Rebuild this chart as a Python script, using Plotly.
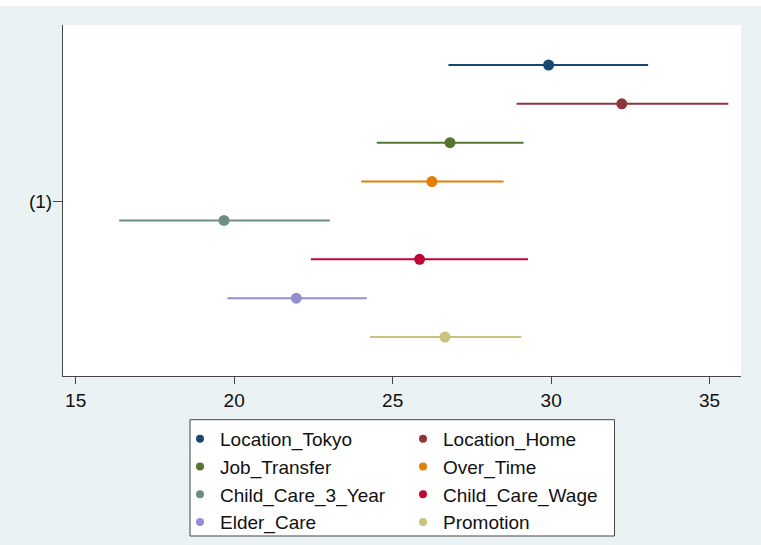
import plotly.graph_objects as go

names = ["Location_Tokyo", "Location_Home", "Job_Transfer", "Over_Time",
         "Child_Care_3_Year", "Child_Care_Wage", "Elder_Care", "Promotion"]
estimates = [29.92, 32.23, 26.81, 26.24, 19.68, 25.85, 21.96, 26.65]
ci_low = [26.76, 28.91, 24.50, 24.01, 16.37, 22.42, 19.79, 24.29]
ci_high = [33.06, 35.59, 29.13, 28.50, 23.02, 29.27, 24.18, 29.06]
model_labels = ["(1)"]
x_ticks = [15, 20, 25, 30, 35]

colors = ["#1a476f", "#90353b", "#55752f", "#e37e00",
          "#6e8e84", "#c10534", "#938dd2", "#cac27e"]

FONT = "Liberation Sans, Arial, sans-serif"
W, H = 761, 545
ML, MR, MT, MB = 63, 20, 25, 169
PW, PH = W - ML - MR, H - MT - MB


def px_x(p):
    return (p - ML) / PW


def px_y(p):
    return (H - MB - p) / PH


fig = go.Figure()
n = len(names)
for i, (nm, est, lo, hi, c) in enumerate(zip(names, estimates, ci_low, ci_high, colors)):
    off = (n - 1) / 2 - i
    fig.add_trace(go.Scatter(
        x=[est], y=[off], mode="markers", name=nm, showlegend=False,
        marker=dict(color=c, size=11, line=dict(width=0)),
        error_x=dict(type="data", symmetric=False, array=[hi - est], arrayminus=[est - lo],
                     color=c, thickness=2, width=0),
    ))
    # legend entries (two columns)
    fig.add_trace(go.Scatter(
        x=[None], y=[None], mode="markers", name=nm, showlegend=True,
        marker=dict(color=c, size=8),
        legend="legend" if i % 2 == 0 else "legend2",
    ))

fig.update_layout(
    width=W, height=H,
    margin=dict(l=ML, r=MR, t=MT, b=MB, autoexpand=False),
    paper_bgcolor="#EAF2F3",
    plot_bgcolor="#FFFFFF",
    font=dict(family=FONT, size=19, color="#111111"),
    xaxis=dict(range=[14.6, 35.99], tickvals=x_ticks, showline=True, linecolor="#444444",
               linewidth=1, ticks="outside", ticklen=7, tickcolor="#444444", showgrid=False,
               zeroline=False, tickfont=dict(size=19, family=FONT, color="#111111")),
    yaxis=dict(range=[-4.503, 4.529], tickvals=[0], ticktext=model_labels, showline=True,
               linecolor="#444444", linewidth=1, ticks="outside", ticklen=9,
               tickcolor="#444444", showgrid=False, zeroline=False, ticklabelstandoff=-3,
               tickfont=dict(size=19, family=FONT, color="#111111")),
    legend=dict(x=px_x(180), y=px_y(420), xanchor="left", yanchor="top",
                bgcolor="rgba(0,0,0,0)", borderwidth=0, orientation="v",
                font=dict(size=19, family=FONT, color="#111111"), tracegroupgap=0),
    legend2=dict(x=px_x(403), y=px_y(420), xanchor="left", yanchor="top",
                 bgcolor="rgba(0,0,0,0)", borderwidth=0, orientation="v",
                 font=dict(size=19, family=FONT, color="#111111"), tracegroupgap=0),
    shapes=[
        dict(type="rect", xref="paper", yref="paper", x0=px_x(190), x1=px_x(614.5),
             y0=px_y(536), y1=px_y(419.7), fillcolor="#FFFFFF",
             line=dict(color="#444444", width=1), layer="below"),
        dict(type="rect", xref="paper", yref="paper", x0=px_x(-5), x1=px_x(W + 5),
             y0=px_y(6), y1=px_y(-5), fillcolor="#FFFFFF", line=dict(width=0),
             layer="below"),
    ],
)

fig.write_html("out.html")
